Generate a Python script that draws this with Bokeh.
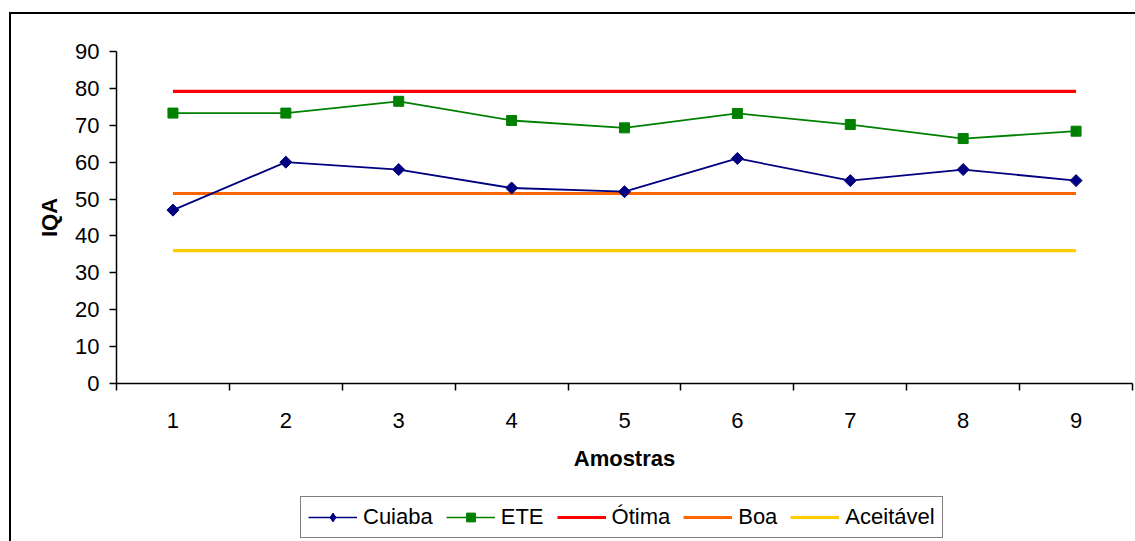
import math
from bokeh.plotting import figure
from bokeh.layouts import column
from bokeh.models import Range1d, FixedTicker, Legend, LegendItem
from bokeh.embed import file_html
from bokeh.resources import INLINE

# ---- data ----
amostras = [1, 2, 3, 4, 5, 6, 7, 8, 9]
cuiaba = [47, 60, 58, 53, 52, 61, 55, 58, 55]
ete = [73.3, 73.3, 76.5, 71.3, 69.3, 73.2, 70.2, 66.4, 68.4]
otima = [79.2, 79.2, 79.2, 79.2, 79.2, 79.2, 79.2, 79.2, 79.2]
boa = [51.5, 51.5, 51.5, 51.5, 51.5, 51.5, 51.5, 51.5, 51.5]
aceitavel = [36, 36, 36, 36, 36, 36, 36, 36, 36]
y_ticks = [0, 10, 20, 30, 40, 50, 60, 70, 80, 90]
x_labels = ["1", "2", "3", "4", "5", "6", "7", "8", "9"]
series_names = ["Cuiaba", "ETE", "Ótima", "Boa", "Aceitável"]

FONT = "Liberation Sans"
C_CU, C_ET, C_OT, C_BO, C_AC = "#000080", "#008000", "#FF0000", "#FF6600", "#FFCC00"

# ---------------- main chart ----------------
p = figure(width=1135, height=490, output_backend="svg", toolbar_location=None,
           x_range=Range1d(0.5, 9.5), y_range=Range1d(0, 90),
           min_border_left=116, min_border_top=51, min_border_right=3,
           min_border_bottom=107)
p.outline_line_color = None
p.grid.visible = False
p.background_fill_color = "white"
p.border_fill_color = None

p.line(amostras, otima, line_color=C_OT, line_width=3.2)
p.line(amostras, boa, line_color=C_BO, line_width=3.2)
p.line(amostras, aceitavel, line_color=C_AC, line_width=3.2)
p.line(amostras, cuiaba, line_color=C_CU, line_width=1.8)
p.line(amostras, ete, line_color=C_ET, line_width=1.8)
p.scatter(amostras, cuiaba, marker="square", angle=math.pi / 4, size=8.5,
          fill_color=C_CU, line_color=C_CU)
p.scatter(amostras, ete, marker="square", size=10, fill_color=C_ET, line_color=C_ET)

xa = p.xaxis[0]
xa.ticker = FixedTicker(ticks=amostras,
                        minor_ticks=[a - 0.5 for a in amostras] + [amostras[-1] + 0.5])
xa.major_label_overrides = {a: s for a, s in zip(amostras, x_labels)}
xa.major_tick_out = 0
xa.major_tick_in = 0
xa.minor_tick_out = 7
xa.minor_tick_in = 0
xa.minor_tick_line_color = "black"
xa.minor_tick_line_width = 1.5
xa.axis_line_color = "black"
xa.axis_line_width = 1.5
xa.major_label_standoff = 22
xa.major_label_text_font = FONT
xa.major_label_text_font_size = "22px"
xa.major_label_text_color = "black"
xa.axis_label = "Amostras"
xa.axis_label_text_font = FONT
xa.axis_label_text_font_size = "22px"
xa.axis_label_text_font_style = "bold"
xa.axis_label_text_color = "black"
xa.axis_label_standoff = 15

ya = p.yaxis[0]
ya.ticker = FixedTicker(ticks=y_ticks)
ya.major_tick_out = 7
ya.major_tick_in = 0
ya.minor_tick_out = 0
ya.minor_tick_in = 0
ya.major_tick_line_color = "black"
ya.major_tick_line_width = 1.5
ya.axis_line_color = "black"
ya.axis_line_width = 1.5
ya.major_label_standoff = 10
ya.major_label_text_font = FONT
ya.major_label_text_font_size = "22px"
ya.major_label_text_color = "black"
ya.axis_label = "IQA"
ya.axis_label_text_font = FONT
ya.axis_label_text_font_size = "22px"
ya.axis_label_text_font_style = "bold"
ya.axis_label_text_color = "black"
ya.axis_label_standoff = 10

# ---------------- legend strip ----------------
q = figure(width=1135, height=51, output_backend="svg", toolbar_location=None,
           x_range=Range1d(-20, -10), y_range=Range1d(-20, -10),
           x_axis_location=None, y_axis_location=None,
           min_border_left=0, min_border_right=0, min_border_top=0, min_border_bottom=0)
q.outline_line_color = None
q.grid.visible = False
q.background_fill_color = None
q.border_fill_color = None

g_cu = [q.line(amostras, cuiaba, line_color=C_CU, line_width=1.6),
        q.scatter(amostras, cuiaba, marker="diamond", size=12, fill_color=C_CU, line_color=C_CU)]
g_et = [q.line(amostras, ete, line_color=C_ET, line_width=1.6),
        q.scatter(amostras, ete, marker="square", size=7, fill_color=C_ET, line_color=C_ET)]
g_ot = [q.line(amostras, otima, line_color=C_OT, line_width=3.2)]
g_bo = [q.line(amostras, boa, line_color=C_BO, line_width=3.2)]
g_ac = [q.line(amostras, aceitavel, line_color=C_AC, line_width=3.2)]

legend = Legend(items=[LegendItem(label=n, renderers=r) for n, r in
                       zip(series_names, [g_cu, g_et, g_ot, g_bo, g_ac])],
                location=(184, 3), orientation="horizontal",
                glyph_width=49, glyph_height=22, label_standoff=6, spacing=13,
                padding=7, margin=0, label_text_font=FONT, label_text_font_size="22px",
                label_text_color="black", border_line_color="black",
                border_line_width=1.5, background_fill_color="white",
                background_fill_alpha=1.0)
q.add_layout(legend)

layout = column(p, q, spacing=0, styles={
    "background-color": "white",
    "background-image": "linear-gradient(#000, #000), linear-gradient(#000, #000)",
    "background-position": "9px 12px, 9px 12px",
    "background-size": "2px 100%, 100% 2px",
    "background-repeat": "no-repeat",
})

open("out.html", "w").write(file_html(layout, INLINE))
